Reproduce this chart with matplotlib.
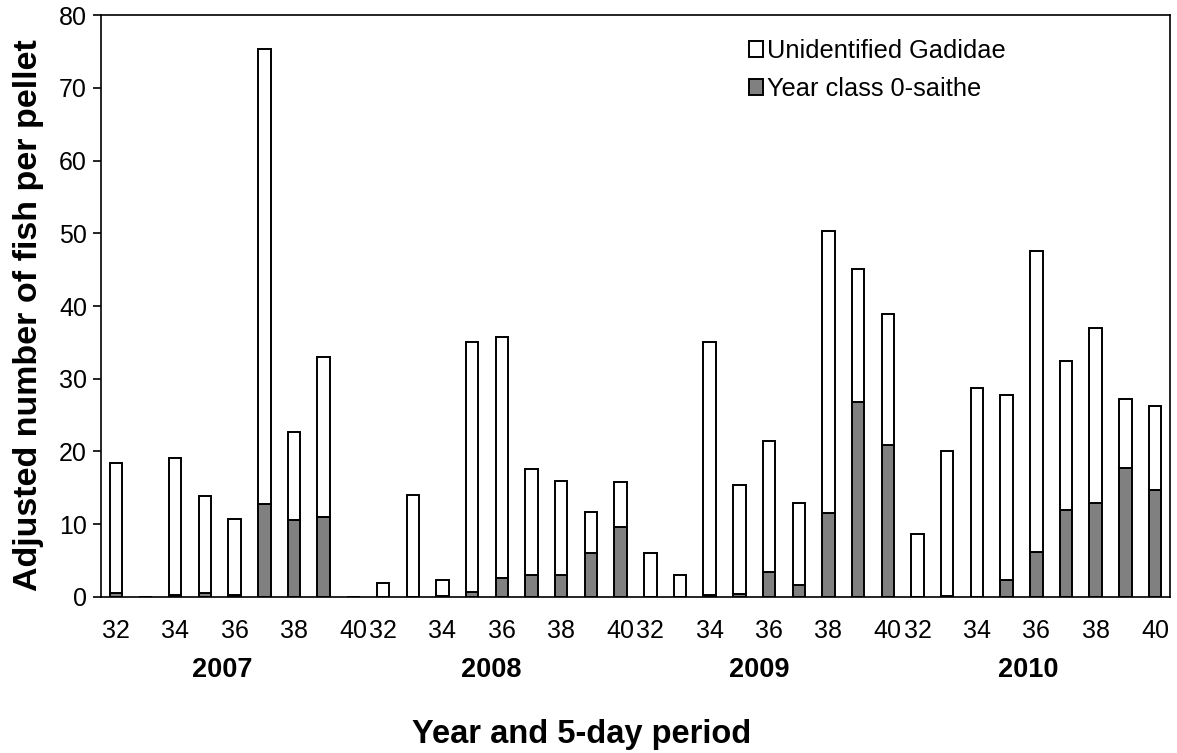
import matplotlib
matplotlib.use("Agg")
import matplotlib.pyplot as plt
import numpy as np

plt.rcParams['font.family'] = ['Liberation Sans', 'DejaVu Sans']

years = ["2007", "2008", "2009", "2010"]
periods = [32, 33, 34, 35, 36, 37, 38, 39, 40]

# total heights (Unidentified Gadidae stacked on top of saithe)
total_2007 = [18.4, 0, 19.1, 13.9, 10.7, 75.4, 22.7, 33.0, 0]
total_2008 = [1.9, 14.0, 2.4, 35.0, 35.8, 17.6, 16.0, 11.7, 15.8]
total_2009 = [6.1, 3.0, 35.1, 15.4, 21.4, 12.9, 50.3, 45.1, 38.9]
total_2010 = [8.6, 20.0, 28.7, 27.7, 47.5, 32.4, 37.0, 27.2, 26.2]

saithe_2007 = [0.5, 0, 0.3, 0.5, 0.3, 12.8, 10.6, 11.0, 0]
saithe_2008 = [0, 0, 0.1, 0.7, 2.6, 3.0, 3.0, 6.1, 9.6]
saithe_2009 = [0, 0, 0.3, 0.4, 3.4, 1.6, 11.6, 26.8, 20.9]
saithe_2010 = [0, 0.1, 0, 2.4, 6.2, 12.0, 12.9, 17.8, 14.7]

period_tick_labels = ["32", "", "34", "", "36", "", "38", "", "40"]

totals = np.array(total_2007 + total_2008 + total_2009 + total_2010)
saithe = np.array(saithe_2007 + saithe_2008 + saithe_2009 + saithe_2010)
gadidae = totals - saithe

x = np.arange(len(totals))

fig = plt.figure(figsize=(11.77, 7.53), dpi=100)
ax = fig.add_axes([0.0858, 0.2072, 0.9082, 0.7728])

w = 0.42
ax.bar(x, saithe, width=w, color="#808080", edgecolor="black", linewidth=1.4,
       label="Year class 0-saithe", zorder=2)
ax.bar(x, gadidae, width=w, bottom=saithe, color="white", edgecolor="black",
       linewidth=1.4, label="Unidentified Gadidae", zorder=2)

ax.set_xlim(-0.5, len(totals) - 0.5)
ax.set_ylim(0, 80)
ax.set_yticks(np.arange(0, 81, 10))
ax.tick_params(axis='y', labelsize=18, length=6, width=1.2, direction='out', pad=4)
ax.set_xticks(x)
ax.set_xticklabels(period_tick_labels * len(years))
ax.tick_params(axis='x', labelsize=18, length=0, pad=16)
for s in ax.spines.values():
    s.set_linewidth(1.2)

ax.set_ylabel("Adjusted number of fish per pellet", fontsize=24.5, fontweight='bold')
ax.yaxis.set_label_coords(-0.053, 0.485)

for i, yr in enumerate(years):
    ax.text(3.6 + 9.04 * i, -0.125, yr, transform=ax.get_xaxis_transform(),
            ha='center', va='center', fontsize=19.5, fontweight='bold')

fig.text(0.494, 0.024, "Year and 5-day period", ha='center', va='center',
         fontsize=23.5, fontweight='bold')

handles, labels = ax.get_legend_handles_labels()
leg = ax.legend(handles[::-1], labels[::-1], loc='upper left',
                bbox_to_anchor=(0.6255, 0.965), bbox_transform=fig.transFigure,
                frameon=False, fontsize=18.3, handlelength=0.55, handleheight=0.55,
                handletextpad=0.15, labelspacing=0.55, borderpad=0)

fig.savefig("out.png", dpi=100)
